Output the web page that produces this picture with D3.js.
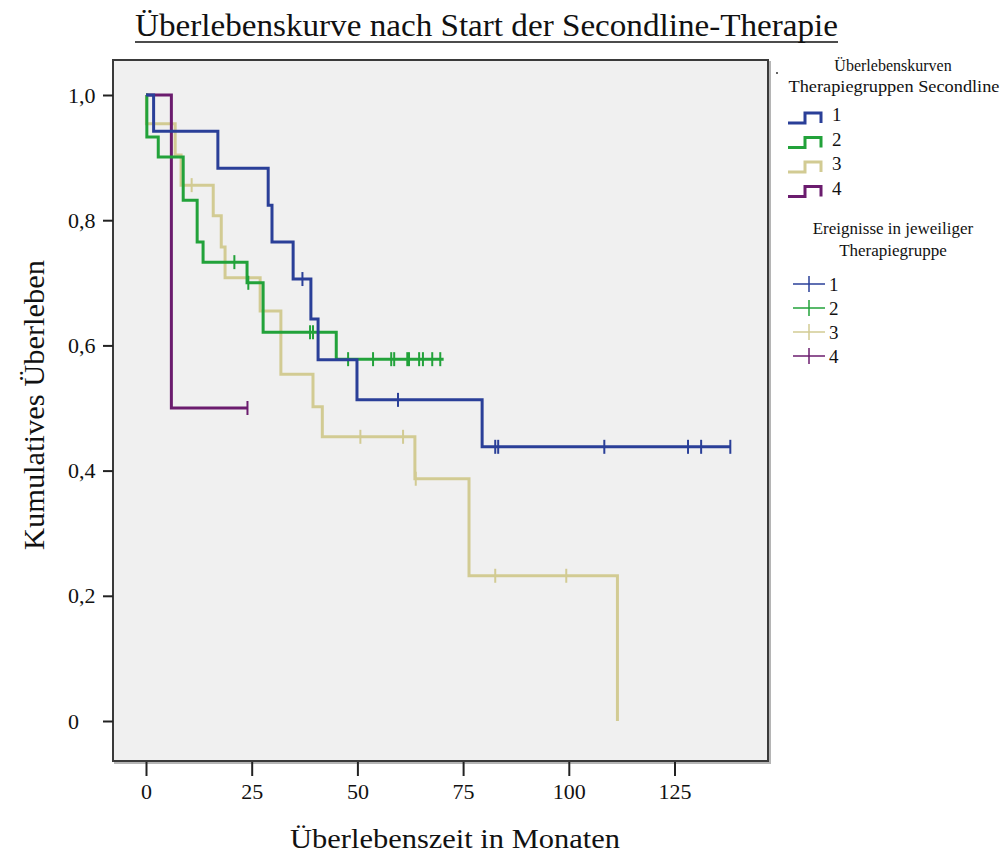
<!DOCTYPE html>
<html>
<head>
<meta charset="utf-8">
<script src="https://cdn.jsdelivr.net/npm/d3@7"></script>
<style>
  body { margin: 0; background: #fff; }
  text { font-family: "Liberation Serif", "Times New Roman", serif; fill: #111; }
</style>
</head>
<body>
<div id="chart"></div>
<script>
var width = 1003;
var height = 859;

// groups and colours
var groups = ["1", "2", "3", "4"];
var colors = ["#2a3f98", "#22a23a", "#d2cb93", "#6b1c6e"];

// step points (month, cumulative survival) per group
var times1 = [0, 1.8, 17.0, 28.9, 29.8, 34.8, 39.0, 40.7, 49.9, 79.5, 138.2];
var surv1  = [1, 0.942, 0.883, 0.824, 0.765, 0.706, 0.642, 0.577, 0.513, 0.438, 0.438];
var censor1 = [37.0, 59.6, 82.6, 83.3, 108.4, 128.2, 131.3, 138.2];

var times2 = [0, 0.2, 2.9, 8.8, 12.1, 13.5, 23.9, 27.7, 45.0, 70.4];
var surv2  = [1, 0.933, 0.901, 0.832, 0.765, 0.733, 0.700, 0.621, 0.578, 0.578];
var censor2 = [20.9, 24.2, 38.8, 39.5, 47.8, 53.7, 58.0, 58.7, 61.8, 62.2, 64.6, 65.5, 67.7, 69.6];

var times3 = [0, 0.1, 6.9, 8.3, 15.9, 17.8, 18.7, 27.0, 31.9, 39.5, 41.7, 63.6, 76.4, 111.5];
var surv3  = [1, 0.954, 0.904, 0.856, 0.807, 0.757, 0.708, 0.655, 0.554, 0.502, 0.454, 0.387, 0.232, 0];
var censor3 = [10.8, 50.7, 60.8, 63.8, 82.6, 99.4];

var times4 = [0, 6.0, 24.0];
var surv4  = [1, 0.5, 0.5];
var censor4 = [24.0];

var xTicks = [0, 25, 50, 75, 100, 125];
var yTicks = [0, 0.2, 0.4, 0.6, 0.8, 1.0];

var allTimes = [times1, times2, times3, times4];
var allSurv = [surv1, surv2, surv3, surv4];
var allCensor = [censor1, censor2, censor3, censor4];

var svg = d3.select("#chart").append("svg")
  .attr("width", width)
  .attr("height", height)

var x = d3.scaleLinear().domain([0, 125]).range([146, 674.5])
var y = d3.scaleLinear().domain([0, 1]).range([721, 95])

// plot frame
svg.append("rect")
  .attr("x", 115).attr("y", 62)
  .attr("width", 655).attr("height", 701)
  .attr("fill", "none")
  .attr("stroke", "#b5b5b5")
  .attr("stroke-width", 2)
svg.append("rect")
  .attr("x", 113).attr("y", 60)
  .attr("width", 655).attr("height", 701)
  .attr("fill", "#f0f0f0")
  .attr("stroke", "#3a3a3a")
  .attr("stroke-width", 2)

// axes
var xAxis = svg.append("g")
  .attr("transform", "translate(0,762)")
  .call(d3.axisBottom(x).tickValues(xTicks).tickSize(14).tickPadding(7))
xAxis.select(".domain").remove()
xAxis.selectAll("line").attr("stroke", "#222").attr("stroke-width", 2)
xAxis.selectAll("text")
  .attr("font-size", "22px")
  .attr("font-family", "Liberation Serif")
  .attr("fill", "#111")

var yAxis = svg.append("g")
  .attr("transform", "translate(113,0)")
  .call(d3.axisLeft(y).tickValues(yTicks).tickSize(10)
    .tickFormat(function(d) { return d === 0 ? "0" : d.toFixed(1).replace(".", ","); }))
yAxis.select(".domain").remove()
yAxis.selectAll("line").attr("stroke", "#222").attr("stroke-width", 2)
yAxis.selectAll("text")
  .attr("text-anchor", "start")
  .attr("x", -45)
  .attr("font-size", "22px")
  .attr("font-family", "Liberation Serif")
  .attr("fill", "#111")

// curves
var line = d3.line()
  .x(function(d) { return x(d[0]) })
  .y(function(d) { return y(d[1]) })
  .curve(d3.curveStepAfter)

function survAt(times, surv, t) {
  var s = surv[0];
  for (var i = 0; i < times.length; i++) {
    if (times[i] <= t) s = surv[i];
  }
  return s;
}

// draw order: tan, purple, green, blue like the picture
[2, 3, 1, 0].forEach(function(g) {
  var pts = allTimes[g].map(function(t, i) { return [t, allSurv[g][i]] });
  svg.append("path")
    .datum(pts)
    .attr("d", line)
    .attr("fill", "none")
    .attr("stroke", colors[g])
    .attr("stroke-width", 3)

  svg.selectAll(".censor" + g)
    .data(allCensor[g])
    .enter().append("line")
    .attr("class", "censor" + g)
    .attr("x1", function(d) { return x(d) })
    .attr("x2", function(d) { return x(d) })
    .attr("y1", function(d) { return y(survAt(allTimes[g], allSurv[g], d)) - 7 })
    .attr("y2", function(d) { return y(survAt(allTimes[g], allSurv[g], d)) + 7 })
    .attr("stroke", colors[g])
    .attr("stroke-width", 2)
})

// title
var title = svg.append("text")
  .attr("x", 135).attr("y", 36)
  .attr("font-size", "31px")
  .attr("textLength", 703)
  .attr("lengthAdjust", "spacingAndGlyphs")
  .text("Überlebenskurve nach Start der Secondline-Therapie")
svg.append("line")
  .attr("x1", 135).attr("x2", 838)
  .attr("y1", 42).attr("y2", 42)
  .attr("stroke", "#111").attr("stroke-width", 1.5)

// axis titles
svg.append("text")
  .attr("x", 455).attr("y", 848)
  .attr("text-anchor", "middle")
  .attr("font-size", "28px")
  .attr("textLength", 330)
  .attr("lengthAdjust", "spacingAndGlyphs")
  .text("Überlebenszeit in Monaten")

svg.append("text")
  .attr("transform", "translate(44,405) rotate(-90)")
  .attr("text-anchor", "middle")
  .attr("font-size", "29px")
  .attr("textLength", 290)
  .attr("lengthAdjust", "spacingAndGlyphs")
  .text("Kumulatives Überleben")

// legend 1: survival curves
svg.append("circle").attr("cx", 777).attr("cy", 73).attr("r", 1).attr("fill", "#333")
svg.append("text").attr("x", 893).attr("y", 71).attr("text-anchor", "middle")
  .attr("font-size", "16px").text("Überlebenskurven")
svg.append("text").attr("x", 894).attr("y", 92).attr("text-anchor", "middle")
  .attr("font-size", "17px").attr("textLength", 211).attr("lengthAdjust", "spacingAndGlyphs")
  .text("Therapiegruppen Secondline")

var leg1 = svg.selectAll(".leg1")
  .data(groups)
  .enter().append("g")
  .attr("class", "leg1")
  .attr("transform", function(d, i) { return "translate(788," + (114 + i * 24.5) + ")" })
leg1.append("path")
  .attr("d", "M0,9 L17,9 L17,-1 L33,-1 L33,9")
  .attr("fill", "none")
  .attr("stroke", function(d, i) { return colors[i] })
  .attr("stroke-width", 3)
leg1.append("text")
  .attr("x", 44).attr("y", 7)
  .attr("font-size", "19px")
  .text(function(d) { return d })

// legend 2: censored events
svg.append("text").attr("x", 893).attr("y", 234).attr("text-anchor", "middle")
  .attr("font-size", "17px").text("Ereignisse in jeweiliger")
svg.append("text").attr("x", 893).attr("y", 256).attr("text-anchor", "middle")
  .attr("font-size", "17px").text("Therapiegruppe")

var leg2 = svg.selectAll(".leg2")
  .data(groups)
  .enter().append("g")
  .attr("class", "leg2")
  .attr("transform", function(d, i) { return "translate(793," + (284 + i * 24) + ")" })
leg2.append("line")
  .attr("x1", 0).attr("x2", 32).attr("y1", 0).attr("y2", 0)
  .attr("stroke", function(d, i) { return colors[i] })
  .attr("stroke-width", 1.5)
leg2.append("line")
  .attr("x1", 16).attr("x2", 16).attr("y1", -8).attr("y2", 8)
  .attr("stroke", function(d, i) { return colors[i] })
  .attr("stroke-width", 1.5)
leg2.append("text")
  .attr("x", 36).attr("y", 7)
  .attr("font-size", "19px")
  .text(function(d) { return d })
</script>
</body>
</html>
